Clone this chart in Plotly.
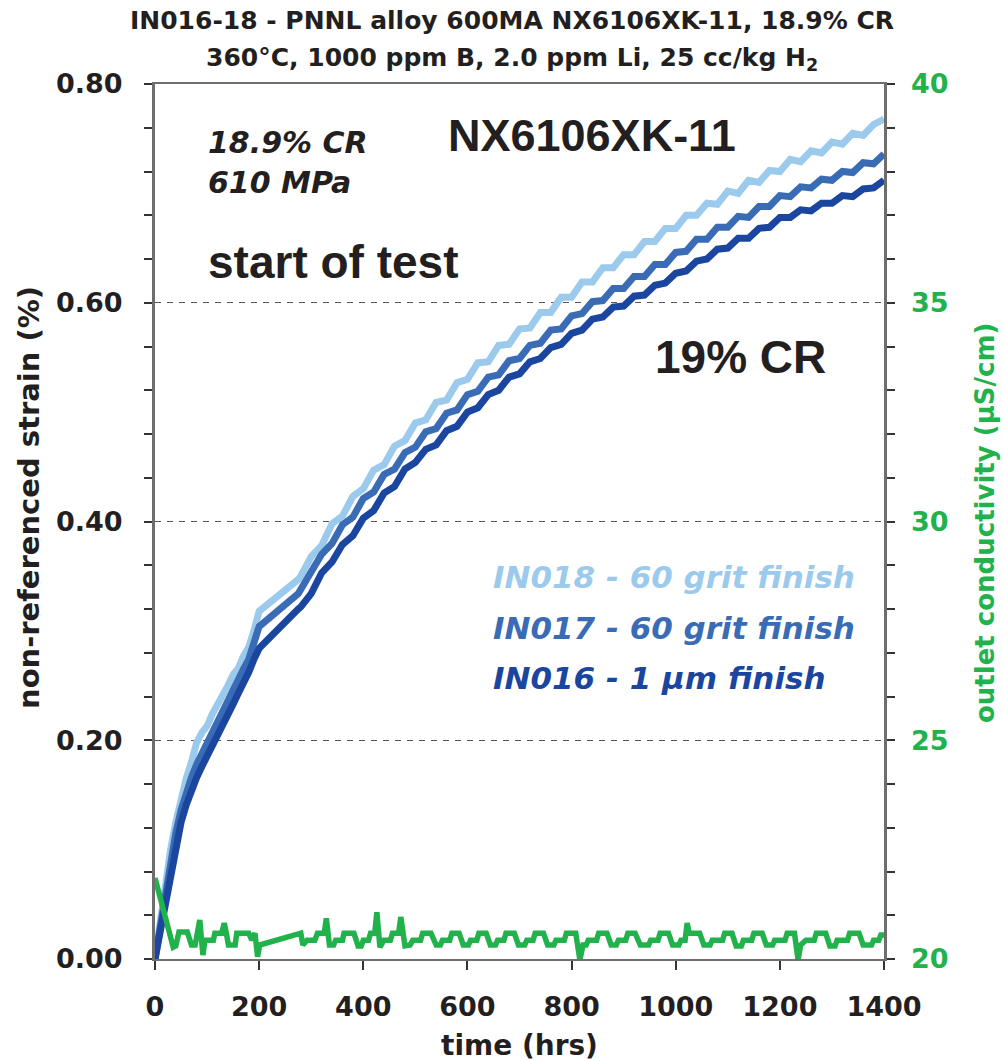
import plotly.graph_objects as go

# ---------------- data ----------------
t_early = [0, 10, 20, 30, 40, 50, 60, 70, 80, 90, 100, 110, 120, 130, 140, 150, 160, 170, 180, 190, 200]
t_late = [275, 280, 300, 320, 340, 360, 380, 400, 420, 440, 460, 480, 500, 520, 540, 560, 580, 600,
          620, 640, 660, 680, 700, 720, 740, 760, 780, 800, 820, 840, 860, 880, 900, 920, 940, 960,
          980, 1000, 1020, 1040, 1060, 1080, 1100, 1120, 1140, 1160, 1180, 1200, 1220, 1240, 1260,
          1280, 1300, 1320, 1340, 1360, 1380, 1400]
time_hrs = t_early + t_late

in018_strain = [0, .035, .07, .10, .125, .147, .165, .18, .198, .207, .213, .224, .232, .243, .25, .26, .266, .277, .285, .30, .318,
                .347, .350, .368, .378, .398, .405, .423, .430, .447, .452, .469, .474, .490, .493, .509, .511, .527, .530,
                .545, .546, .561, .562, .576, .577, .591, .591, .605, .605, .619, .619, .632, .632, .644, .644, .656, .656,
                .668, .668, .680, .680, .691, .690, .702, .700, .712, .710, .721, .720, .731, .729, .739, .737, .747,
                .745, .755, .753, .763, .768]
in017_strain = [0, .03, .062, .092, .115, .136, .152, .166, .178, .188, .196, .206, .217, .228, .238, .247, .256, .265, .274, .288, .304,
                .334, .338, .351, .370, .380, .397, .404, .421, .427, .443, .448, .463, .468, .482, .485, .499, .502, .516,
                .519, .532, .534, .547, .549, .561, .563, .575, .576, .588, .590, .601, .602, .613, .613, .624, .624, .635,
                .635, .646, .647, .658, .658, .669, .669, .679, .678, .688, .688, .698, .697, .706, .705, .713, .712,
                .720, .719, .728, .727, .736]
in016_strain = [0, .025, .055, .082, .105, .125, .141, .155, .166, .176, .185, .194, .203, .213, .223, .233, .243, .252, .262, .274, .284,
                .320, .322, .334, .353, .363, .379, .387, .403, .410, .426, .432, .448, .454, .466, .470, .483, .487, .500,
                .504, .516, .520, .532, .535, .546, .549, .559, .562, .572, .575, .585, .587, .596, .597, .606, .607, .616,
                .618, .627, .629, .638, .640, .649, .650, .659, .659, .668, .669, .678, .678, .685, .684, .691, .691,
                .698, .697, .704, .705, .712]

cond_time = [0, 35, 40, 46, 62, 70, 77, 80, 86, 92, 96, 112, 115, 128, 133, 137, 141, 154, 157, 180, 186, 192, 197, 201,
             272, 280, 284, 292, 307, 312, 325, 329, 335, 343, 347, 360, 363, 382, 390, 396, 400, 410, 414, 422, 426,
             432, 440, 452, 456, 468, 472, 480, 490, 495, 510, 514, 530, 540, 548, 552, 566, 570, 584, 592, 602, 606,
             618, 622, 636, 644, 654, 658, 670, 674, 690, 698, 710, 714, 726, 730, 746, 754, 766, 770, 786, 790, 808,
             816, 822, 828, 832, 848, 852, 868, 876, 886, 890, 904, 908, 922, 932, 948, 952, 966, 970, 986, 994, 1006,
             1010, 1018, 1022, 1026, 1046, 1054, 1066, 1070, 1090, 1094, 1108, 1116, 1126, 1130, 1146, 1150, 1166,
             1174, 1186, 1190, 1210, 1214, 1228, 1235, 1240, 1250, 1266, 1270, 1288, 1296, 1306, 1310, 1330, 1334,
             1352, 1360, 1376, 1380, 1390, 1394, 1400]
cond_value = [21.85, 20.27, 20.30, 20.62, 20.62, 20.32, 20.32, 20.59, 20.89, 20.09, 20.43, 20.43, 20.59, 20.59, 20.82,
              20.59, 20.32, 20.32, 20.59, 20.59, 20.43, 20.59, 20.05, 20.32,
              20.59, 20.59, 20.32, 20.43, 20.43, 20.59, 20.59, 20.93, 20.32, 20.32, 20.43, 20.43, 20.59, 20.59, 20.30,
              20.30, 20.43, 20.43, 20.59, 20.59, 21.07, 20.27, 20.43, 20.43, 20.59, 20.59, 20.96, 20.30, 20.32, 20.43,
              20.43, 20.59, 20.59, 20.32, 20.32, 20.43, 20.43, 20.59, 20.59, 20.32, 20.32, 20.43, 20.43, 20.59, 20.59,
              20.32, 20.32, 20.43, 20.43, 20.59, 20.59, 20.32, 20.32, 20.43, 20.43, 20.59, 20.59, 20.32, 20.32, 20.43,
              20.43, 20.59, 20.59, 19.98, 20.32, 20.32, 20.43, 20.43, 20.59, 20.59, 20.32, 20.32, 20.43, 20.43, 20.59,
              20.59, 20.32, 20.32, 20.43, 20.43, 20.59, 20.59, 20.32, 20.32, 20.43, 20.43, 20.82, 20.59, 20.59, 20.32,
              20.32, 20.43, 20.43, 20.59, 20.59, 20.30, 20.30, 20.43, 20.43, 20.59, 20.59, 20.32, 20.32, 20.43, 20.43,
              20.59, 20.59, 19.98, 20.32, 20.43, 20.43, 20.59, 20.59, 20.30, 20.30, 20.43, 20.43, 20.59, 20.59, 20.32,
              20.32, 20.43, 20.43, 20.55, 20.55]

strain_ticks = [0.0, 0.2, 0.4, 0.6, 0.8]
strain_tick_text = ["0.00", "0.20", "0.40", "0.60", "0.80"]
cond_ticks = [20, 25, 30, 35, 40]
time_ticks = [0, 200, 400, 600, 800, 1000, 1200, 1400]

# ---------------- styling ----------------
LIGHT = "#9ccaed"
MID = "#3a6cb6"
DARK = "#1a46a0"
GREEN = "#22b24c"
TXT = "#231f20"
AXC = "#6e6e6e"

fig = go.Figure()
fig.add_trace(go.Scatter(x=time_hrs, y=in018_strain, mode="lines", line=dict(color=LIGHT, width=7),
                         showlegend=False))
fig.add_trace(go.Scatter(x=time_hrs, y=in017_strain, mode="lines", line=dict(color=MID, width=7),
                         showlegend=False))
fig.add_trace(go.Scatter(x=time_hrs, y=in016_strain, mode="lines", line=dict(color=DARK, width=7),
                         showlegend=False))
fig.add_trace(go.Scatter(x=cond_time, y=cond_value, mode="lines", line=dict(color=GREEN, width=5.5),
                         yaxis="y2", showlegend=False))

bold = dict(family="DejaVu Sans", weight="bold")

fig.update_layout(
    width=1003, height=1061,
    margin=dict(l=155, r=119, t=84, b=102),
    plot_bgcolor="white", paper_bgcolor="white",
    xaxis=dict(range=[0, 1400], tickvals=time_ticks, ticks="outside", ticklen=9, tickwidth=1.5,
               tickcolor="#333", showline=True, linecolor=AXC, linewidth=2, mirror=True,
               showgrid=False, zeroline=False,
               tickfont=dict(size=27, color=TXT, **bold), ticklabelstandoff=14),
    yaxis=dict(range=[0, 0.8], tickvals=strain_ticks, ticktext=strain_tick_text, ticks="outside",
               ticklen=8, tickwidth=1.5, tickcolor="#333",
               minor=dict(dtick=0.04, ticks="outside", ticklen=8, tickwidth=1.5, tickcolor="#333", showgrid=False),
               showline=True, linecolor=AXC, linewidth=3, mirror="ticks",
               showgrid=True, gridcolor="#555", griddash="6px,6px", gridwidth=1, zeroline=False,
               tickfont=dict(size=27, color=TXT, **bold), ticklabelstandoff=16),
    yaxis3=dict(range=[0, 0.8], overlaying="y", side="left", tickvals=strain_ticks, ticks="inside",
                ticklen=8, tickwidth=1.5, tickcolor="#333", showticklabels=False,
                minor=dict(dtick=0.04, ticks="inside", ticklen=8, tickwidth=1.5, tickcolor="#333", showgrid=False),
                showline=False, mirror="ticks", showgrid=False, zeroline=False),
    yaxis2=dict(range=[20, 40], overlaying="y", side="right", tickvals=cond_ticks, ticks="",
                showline=False, showgrid=False, zeroline=False,
                tickfont=dict(size=27, color=GREEN, **bold), ticklabelstandoff=26),
)

def px_x(X):
    return (X - 155) / 729.0

def px_y(Y):
    return (959 - Y) / 875.0

anns = [
    dict(text="IN016-18 - PNNL alloy 600MA NX6106XK-11, 18.9% CR", x=px_x(512), y=px_y(21),
         font=dict(size=25, color=TXT, **bold), xanchor="center"),
    dict(text="360°C, 1000 ppm B, 2.0 ppm Li, 25 cc/kg H<sub>2</sub>", x=px_x(512), y=px_y(59),
         font=dict(size=25, color=TXT, **bold), xanchor="center"),
    dict(text="time (hrs)", x=px_x(519), y=px_y(1045), font=dict(size=28, color=TXT, **bold),
         xanchor="center"),
    dict(text="non-referenced strain (%)", x=px_x(29), y=px_y(498), textangle=-90,
         font=dict(size=29, color=TXT, **bold), xanchor="center"),
    dict(text="outlet conductivity (µS/cm)", x=px_x(985), y=px_y(523), textangle=-90,
         font=dict(size=26, color=GREEN, **bold), xanchor="center"),
    dict(text="NX6106XK-11", x=px_x(592), y=px_y(135),
         font=dict(family="Liberation Sans", size=45, color=TXT, weight="bold"), xanchor="center"),
    dict(text="<i>18.9% CR</i>", x=px_x(206), y=px_y(142),
         font=dict(size=30, color=TXT, **bold), xanchor="left"),
    dict(text="<i>610 MPa</i>", x=px_x(206), y=px_y(182),
         font=dict(size=30, color=TXT, **bold), xanchor="left"),
    dict(text="start of test", x=px_x(206), y=px_y(262),
         font=dict(family="Liberation Sans", size=46, color=TXT, weight="bold"), xanchor="left"),
    dict(text="19% CR", x=px_x(740), y=px_y(357),
         font=dict(family="Liberation Sans", size=46, color=TXT, weight="bold"), xanchor="center"),
    dict(text="<i>IN018 - 60 grit finish</i>", x=px_x(491), y=px_y(577),
         font=dict(size=31, color=LIGHT, **bold), xanchor="left"),
    dict(text="<i>IN017 - 60 grit finish</i>", x=px_x(491), y=px_y(628),
         font=dict(size=31, color=MID, **bold), xanchor="left"),
    dict(text="<i>IN016 - 1 µm finish</i>", x=px_x(491), y=px_y(678),
         font=dict(size=31, color=DARK, **bold), xanchor="left"),
]
for a in anns:
    a.setdefault("yanchor", "middle")
    fig.add_annotation(xref="paper", yref="paper", showarrow=False, **a)

fig.write_html("out.html")
